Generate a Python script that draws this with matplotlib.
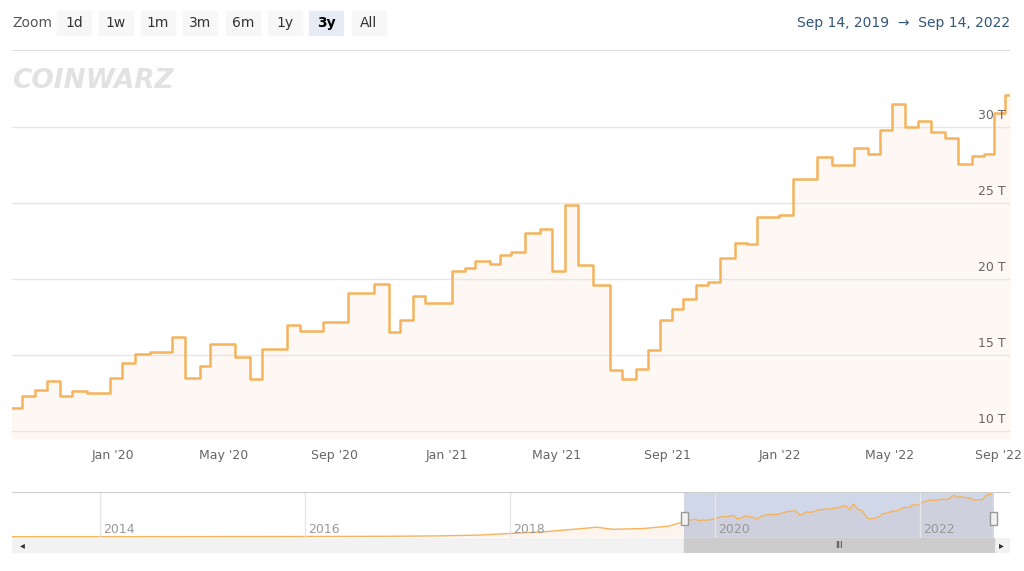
import numpy as np
import matplotlib.pyplot as plt
from matplotlib.patches import Rectangle

# difficulty steps: days since Sep 14, 2019 and value in T
step_days = [0, 11, 25, 38, 52, 66, 82, 107, 120, 134, 151, 175, 189, 205, 216, 244, 260, 273,
             301, 315, 340, 367, 396, 412, 424, 438, 452, 481, 495, 506, 522, 533, 546, 561, 577,
             590, 604, 619, 635, 654, 667, 682, 695, 708, 721, 734, 748, 761, 774, 790, 804, 814,
             839, 854, 880, 896, 921, 936, 949, 962, 976, 990, 1005, 1020, 1034, 1049, 1063, 1074, 1086]
step_vals = [11.5, 12.3, 12.7, 13.3, 12.3, 12.6, 12.5, 13.5, 14.5, 15.1, 15.2, 16.2, 13.5, 14.3,
             15.7, 14.9, 13.4, 15.4, 17.0, 16.6, 17.2, 19.1, 19.7, 16.5, 17.3, 18.9, 18.4, 20.5,
             20.7, 21.2, 21.0, 21.6, 21.8, 23.0, 23.3, 20.5, 24.9, 20.9, 19.6, 14.0, 13.4, 14.1,
             15.3, 17.3, 18.0, 18.7, 19.6, 19.8, 21.4, 22.4, 22.3, 24.1, 24.2, 26.6, 28.0, 27.5,
             28.6, 28.2, 29.8, 31.5, 30.0, 30.4, 29.7, 29.3, 27.6, 28.1, 28.2, 30.9, 32.1]
end_day = 1096
y_ticks = [10, 15, 20, 25, 30]
x_tick_days = [110, 231, 353, 475, 595, 717, 839, 959, 1078]
x_tick_labels = ["Jan '20", "May '20", "Sep '20", "Jan '21", "May '21", "Sep '21", "Jan '22", "May '22", "Sep '22"]
zoom_buttons = ["1d", "1w", "1m", "3m", "6m", "1y", "3y", "All"]

# navigator: full history (years) and values in T
nav_years = [2013.14, 2014.0, 2015.0, 2016.0, 2016.8, 2017.3, 2017.7, 2018.0, 2018.3, 2018.6,
             2018.85, 2019.0, 2019.3, 2019.55, 2019.7]
nav_vals = [0.0, 0.01, 0.05, 0.15, 0.3, 0.6, 1.2, 2.5, 3.5, 5.5, 7.2, 5.6, 6.2, 8.0, 11.5]

line_c = "#f5b35c"
grid_c = "#e6e6e6"
fig = plt.figure(figsize=(10.24, 5.71), dpi=100)
W, H = 1024, 571

def fax(x0, y0, x1, y1):
    return fig.add_axes([x0 / W, 1 - y1 / H, (x1 - x0) / W, (y1 - y0) / H])

# main chart
ax = fax(12, 50, 1010, 438)
xs = step_days + [end_day]
ys = step_vals + [step_vals[-1]]
ax.step(xs, ys, where="post", color=line_c, lw=1.8, zorder=3)
ax.fill_between(xs, ys, 0, step="post", color="#fbe7d2", alpha=0.25, lw=0)
ax.set_xlim(0, 1091)
ax.set_ylim(9.54, 35.07)
for v in y_ticks:
    ax.axhline(v, color=grid_c, lw=1, zorder=1)
    ax.text(1086, v + 0.3, f"{v} T", ha="right", va="bottom", fontsize=9, color="#666666")
for s in ax.spines.values():
    s.set_visible(False)
ax.axhline(35.07, color="#dddddd", lw=1.5)
ax.set_yticks([])
ax.set_xticks(x_tick_days, x_tick_labels)
ax.tick_params(axis="x", length=0, labelsize=9, labelcolor="#666666", pad=8)
ax.text(0.0, 33.0, "COINWARZ", fontsize=19, fontweight="heavy", color="#e2e2e2",
        fontstyle="italic", va="center", family="DejaVu Sans")

# zoom buttons and date range
fig.text(12 / W, 1 - 23 / H, "Zoom", fontsize=10, color="#555555", va="center")
bx = [74, 116, 158, 200, 243, 285, 326, 369]
for x, lab in zip(bx, zoom_buttons):
    sel = lab == "3y"
    fig.patches.append(Rectangle(((x - 17) / W, 1 - 35 / H), 34 / W, 24 / H, transform=fig.transFigure,
                                 color="#e6ebf5" if sel else "#f7f7f7", zorder=0))
    fig.text(x / W, 1 - 23 / H, lab, fontsize=10, color="#000000" if sel else "#333333",
             ha="center", va="center", fontweight="bold" if sel else "normal")
fig.text(1010 / W, 1 - 23 / H, "Sep 14, 2019  →  Sep 14, 2022", fontsize=10, color="#335577",
         ha="right", va="center")

# navigator
nav = fax(12, 492, 1010, 538)
nx = nav_years + [2019.7 + d / 365.25 for d in step_days] + [2022.7]
ny = nav_vals + step_vals + [step_vals[-1]]
nav.plot(nx, ny, color=line_c, lw=1)
nav.fill_between(nx, ny, 0, color="#fbe7d2", alpha=0.4, lw=0)
nav.set_xlim(2013.14, 2022.88)
nav.set_ylim(-1, 34)
nav.axvspan(2019.7, 2022.72, color="#667bb8", alpha=0.3, lw=0)
for yr in [2014, 2016, 2018, 2020, 2022]:
    nav.axvline(yr, color="#e6e6e6", lw=1)
    nav.text(yr + 0.03, 0.5, str(yr), fontsize=9, color="#999999", va="bottom")
for s in nav.spines.values():
    s.set_visible(False)
nav.axhline(34, color="#cccccc", lw=1.5)
nav.set_xticks([])
nav.set_yticks([])
for yr in [2019.7, 2022.72]:
    nav.add_patch(Rectangle((yr - 0.035, 9), 0.07, 10, facecolor="#f2f2f2", edgecolor="#999999", lw=1, zorder=5))

# scrollbar
sb = fax(12, 538, 1010, 553)
sb.set_xlim(2013.14, 2022.88)
sb.set_ylim(0, 1)
sb.add_patch(Rectangle((2013.14, 0), 9.74, 1, color="#f2f2f2"))
sb.add_patch(Rectangle((2019.7, 0), 3.02, 1, color="#cccccc"))
sb.text(2013.22, 0.5, "◂", fontsize=7, va="center", color="#333333")
sb.text(2022.8, 0.5, "▸", fontsize=7, va="center", ha="center", color="#333333")
sb.text(2021.21, 0.5, "III", fontsize=6, va="center", ha="center", color="#333333")
sb.axis("off")

fig.savefig("out.png", dpi=100)
